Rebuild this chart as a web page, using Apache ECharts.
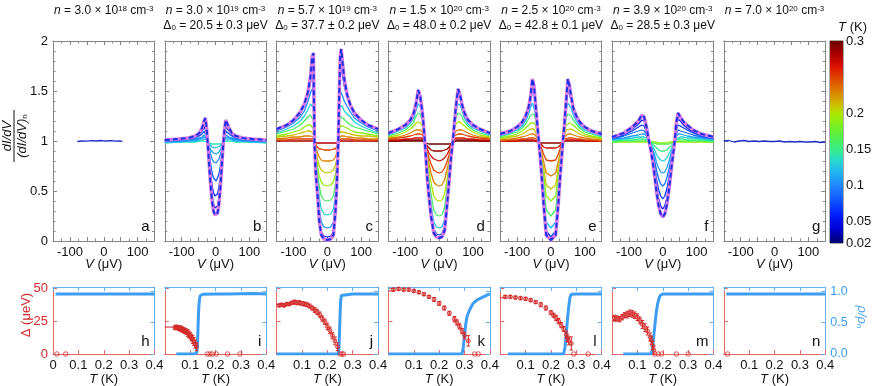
<!DOCTYPE html>
<html><head><meta charset="utf-8">
<script src="https://cdn.jsdelivr.net/npm/echarts@6/dist/echarts.min.js"></script>
<style>html,body{margin:0;padding:0;background:#fff}#c{width:872px;height:386px}</style>
</head><body><div id="c"></div>
<script>
// ---------------- DATA ----------------
// panel titles
const densMant = ['3.0','3.0','5.7','1.5','2.5','3.9','7.0'];
const densExp  = ['18','19','19','20','20','20','20'];
const gapText  = [null,'20.5 ± 0.3','37.7 ± 0.2','48.0 ± 0.2','42.8 ± 0.1','28.5 ± 0.3',null];
const topLetters = ['a','b','c','d','e','f','g'];
const botLetters = ['h','i','j','k','l','m','n'];
// tick labels
const vTickLabels = [-100,0,100];
const cbarLabels = [0.02,0.05,0.1,0.15,0.2,0.3];
const deltaLabels = [0,25,50];
const rhoLabels = [0,0.5,1];

// panel a
const Va = [-78,-65,-50,-35,-20,-10,0,10,20,35,45,55];
const a_low = [0.995,1.0,0.998,1.003,1.0,1.005,1.002,1.0,1.004,0.998,1.0,0.996];
// panel g
const Vg = [-150,-135,-120,-105,-90,-75,-60,-45,-30,-15,0,15,30,45,60,75,90,105,120,135,150];
const g_low = [1.0,1.005,0.99,1.0,1.005,0.995,1.0,0.995,1.0,0.995,0.995,1.0,0.99,0.995,0.99,0.995,0.99,0.99,0.995,0.985,0.99];

// panel b
const Vb = [-150,-110,-80,-60,-48,-40,-34,-30,-26,-22,-18,-14,-10,-6,-2,2,6,10,14,18,22,26,30,34,40,48,60,80,110,150];
const bT = [0.14,0.12,0.11,0.10,0.08,0.06,0.04,0.02];
const b014 = [0.98,0.99,0.99,0.99,1.00,1.00,1.00,1.00,0.99,0.98,0.98,0.97,0.97,0.97,0.97,0.97,0.97,0.97,0.97,0.98,0.98,0.99,1.00,1.00,1.00,1.00,0.99,0.99,0.99,0.98];
const b012 = [0.99,0.99,1.00,1.00,1.01,1.02,1.02,1.02,1.01,0.99,0.97,0.95,0.94,0.94,0.93,0.93,0.94,0.94,0.95,0.97,0.99,1.01,1.02,1.02,1.02,1.01,1.00,1.00,0.99,0.99];
const b011 = [0.99,1.00,1.00,1.01,1.02,1.03,1.04,1.04,1.02,0.98,0.94,0.91,0.89,0.88,0.87,0.87,0.88,0.89,0.91,0.94,0.98,1.02,1.04,1.04,1.03,1.02,1.01,1.00,1.00,0.99];
const b010 = [1.00,1.00,1.01,1.02,1.03,1.04,1.06,1.06,1.03,0.98,0.92,0.86,0.82,0.79,0.78,0.78,0.79,0.82,0.86,0.91,0.97,1.03,1.06,1.06,1.04,1.03,1.02,1.01,1.00,1.00];
const b008 = [1.00,1.01,1.02,1.03,1.05,1.07,1.10,1.10,1.05,0.96,0.86,0.76,0.68,0.63,0.61,0.60,0.62,0.67,0.75,0.85,0.96,1.05,1.10,1.10,1.07,1.05,1.03,1.02,1.01,1.00];
const b006 = [1.01,1.01,1.03,1.04,1.06,1.10,1.14,1.15,1.08,0.95,0.80,0.66,0.55,0.48,0.45,0.44,0.47,0.54,0.65,0.80,0.95,1.07,1.14,1.15,1.10,1.06,1.04,1.03,1.01,1.01];
const b004 = [1.01,1.02,1.03,1.05,1.07,1.12,1.17,1.19,1.10,0.93,0.75,0.58,0.45,0.37,0.33,0.32,0.35,0.43,0.57,0.75,0.93,1.08,1.18,1.19,1.12,1.07,1.05,1.03,1.02,1.01];
const b002 = [1.01,1.02,1.03,1.05,1.08,1.13,1.20,1.23,1.12,0.92,0.72,0.53,0.39,0.30,0.26,0.25,0.28,0.37,0.52,0.72,0.93,1.10,1.21,1.23,1.13,1.08,1.05,1.03,1.02,1.01];

// panel c
const Vc = [-150,-120,-100,-80,-68,-58,-50,-45,-41,-38,-35,-32,-28,-24,-18,-10,0,10,18,24,28,32,35,38,41,45,50,58,68,80,100,120,150];
const cT = [0.28,0.25,0.23,0.21,0.19,0.16,0.13,0.10,0.06,0.02];
const c028 = [1.00,1.00,1.00,1.00,1.00,1.00,1.00,1.00,1.00,0.99,0.98,0.98,0.98,0.98,0.98,0.98,0.98,0.98,0.98,0.98,0.98,0.98,0.99,1.00,1.00,1.00,1.00,1.00,1.00,1.00,1.00,1.00,1.00];
const c025 = [1.01,1.01,1.02,1.02,1.02,1.02,1.02,1.02,1.02,1.00,0.98,0.95,0.93,0.92,0.92,0.91,0.91,0.91,0.92,0.92,0.94,0.98,1.01,1.02,1.02,1.02,1.02,1.02,1.02,1.01,1.01,1.01,1.01];
const c023 = [1.02,1.03,1.04,1.04,1.05,1.05,1.05,1.05,1.04,1.01,0.97,0.92,0.87,0.84,0.81,0.80,0.80,0.80,0.81,0.84,0.88,0.97,1.03,1.05,1.05,1.05,1.05,1.04,1.04,1.03,1.03,1.02,1.02];
const c021 = [1.04,1.05,1.06,1.08,1.09,1.10,1.10,1.09,1.07,1.02,0.95,0.88,0.80,0.75,0.71,0.69,0.68,0.69,0.71,0.76,0.82,0.95,1.06,1.09,1.10,1.09,1.09,1.08,1.07,1.06,1.05,1.05,1.04];
const c019 = [1.05,1.07,1.09,1.11,1.14,1.16,1.16,1.15,1.12,1.03,0.93,0.83,0.73,0.65,0.59,0.56,0.55,0.56,0.59,0.67,0.77,0.95,1.10,1.15,1.16,1.15,1.14,1.13,1.11,1.09,1.08,1.07,1.05];
const c016 = [1.07,1.10,1.12,1.16,1.20,1.24,1.26,1.25,1.20,1.06,0.92,0.78,0.65,0.55,0.45,0.41,0.40,0.41,0.45,0.57,0.72,0.97,1.17,1.25,1.25,1.23,1.21,1.19,1.16,1.14,1.12,1.10,1.07];
const c013 = [1.08,1.12,1.15,1.20,1.25,1.31,1.37,1.38,1.33,1.08,0.88,0.72,0.58,0.44,0.32,0.27,0.26,0.27,0.32,0.48,0.67,0.98,1.25,1.36,1.37,1.34,1.30,1.27,1.24,1.19,1.15,1.12,1.08];
const c010 = [1.10,1.14,1.18,1.24,1.30,1.39,1.48,1.52,1.48,1.08,0.82,0.66,0.50,0.33,0.19,0.14,0.13,0.14,0.19,0.40,0.62,1.00,1.32,1.50,1.50,1.45,1.40,1.35,1.29,1.23,1.18,1.14,1.10];
const c006 = [1.11,1.15,1.20,1.27,1.35,1.45,1.58,1.72,1.70,1.05,0.76,0.60,0.44,0.24,0.09,0.05,0.04,0.05,0.09,0.33,0.57,0.98,1.40,1.70,1.73,1.65,1.55,1.44,1.34,1.26,1.20,1.15,1.11];
const c002 = [1.12,1.16,1.21,1.29,1.37,1.48,1.64,1.84,1.88,1.00,0.72,0.58,0.42,0.20,0.06,0.02,0.01,0.02,0.06,0.30,0.55,0.95,1.45,1.85,1.92,1.78,1.62,1.47,1.36,1.28,1.21,1.16,1.12];

// panel d
const Vd = [-150,-120,-100,-85,-75,-68,-62,-56,-50,-45,-40,-35,-30,-24,-16,-8,0,8,16,24,30,35,40,45,50,56,62,68,75,85,100,120,150];
const dT = [0.30,0.29,0.27,0.25,0.23,0.20,0.16,0.12,0.07,0.02];
const d030 = [1.00,1.00,1.00,1.00,1.00,1.00,1.00,1.00,1.00,0.99,0.98,0.97,0.97,0.97,0.97,0.97,0.97,0.97,0.97,0.97,0.97,0.97,0.98,0.99,1.00,1.00,1.00,1.00,1.00,1.00,1.00,1.00,1.00];
const d029 = [1.00,1.00,1.01,1.01,1.01,1.01,1.01,1.01,1.01,1.00,0.98,0.95,0.93,0.91,0.90,0.90,0.90,0.90,0.91,0.92,0.94,0.97,1.00,1.01,1.01,1.01,1.01,1.01,1.01,1.01,1.01,1.00,1.00];
const d027 = [1.01,1.01,1.02,1.02,1.03,1.03,1.03,1.03,1.03,1.01,0.97,0.92,0.88,0.85,0.82,0.81,0.80,0.81,0.83,0.87,0.91,0.95,1.00,1.02,1.03,1.03,1.03,1.03,1.03,1.02,1.02,1.01,1.01];
const d025 = [1.02,1.03,1.04,1.05,1.06,1.07,1.07,1.07,1.06,1.03,0.96,0.89,0.83,0.77,0.71,0.69,0.68,0.69,0.73,0.80,0.87,0.93,1.01,1.05,1.07,1.07,1.07,1.07,1.06,1.05,1.04,1.03,1.02];
const d023 = [1.03,1.04,1.06,1.08,1.10,1.11,1.11,1.11,1.09,1.04,0.95,0.86,0.77,0.68,0.59,0.56,0.55,0.56,0.61,0.72,0.82,0.92,1.01,1.07,1.10,1.11,1.11,1.11,1.10,1.08,1.06,1.04,1.03];
const d020 = [1.04,1.06,1.09,1.12,1.15,1.18,1.19,1.18,1.15,1.07,0.94,0.81,0.70,0.58,0.45,0.41,0.40,0.41,0.47,0.63,0.78,0.91,1.02,1.12,1.17,1.19,1.19,1.17,1.15,1.12,1.09,1.06,1.04];
const d016 = [1.05,1.08,1.11,1.15,1.19,1.25,1.28,1.27,1.21,1.10,0.93,0.76,0.62,0.47,0.31,0.26,0.25,0.26,0.33,0.55,0.74,0.89,1.02,1.15,1.24,1.28,1.27,1.24,1.19,1.15,1.11,1.08,1.05];
const d012 = [1.06,1.10,1.13,1.18,1.23,1.31,1.37,1.35,1.25,1.12,0.92,0.70,0.54,0.36,0.19,0.14,0.13,0.14,0.21,0.47,0.69,0.87,1.01,1.17,1.30,1.37,1.36,1.30,1.23,1.17,1.13,1.10,1.06];
const d007 = [1.07,1.11,1.15,1.20,1.26,1.35,1.46,1.42,1.28,1.12,0.90,0.66,0.48,0.29,0.12,0.07,0.06,0.07,0.14,0.42,0.65,0.85,1.00,1.18,1.34,1.46,1.43,1.34,1.26,1.20,1.15,1.11,1.07];
const d002 = [1.08,1.12,1.16,1.21,1.28,1.38,1.51,1.45,1.30,1.12,0.88,0.62,0.44,0.25,0.08,0.04,0.03,0.04,0.10,0.38,0.62,0.83,0.98,1.18,1.36,1.52,1.46,1.36,1.28,1.21,1.16,1.12,1.08];

// panel e
const Ve = [-150,-120,-100,-85,-75,-66,-60,-55,-50,-45,-40,-36,-32,-28,-22,-14,0,14,22,28,32,36,40,45,50,55,60,66,75,85,100,120,150];
const eT = [0.29,0.27,0.25,0.23,0.21,0.19,0.16,0.12,0.07,0.02];
const e029 = [1.00,1.00,1.00,1.00,1.00,1.00,1.00,1.00,1.00,1.00,0.99,0.99,0.98,0.98,0.98,0.98,0.98,0.98,0.98,0.98,0.98,0.99,0.99,1.00,1.00,1.00,1.00,1.00,1.00,1.00,1.00,1.00,1.00];
const e027 = [1.00,1.00,1.00,1.01,1.01,1.01,1.01,1.01,1.01,1.01,1.00,0.99,0.98,0.96,0.94,0.93,0.93,0.93,0.94,0.96,0.98,0.99,1.00,1.01,1.01,1.01,1.01,1.01,1.01,1.01,1.00,1.00,1.00];
const e025 = [1.00,1.01,1.01,1.02,1.02,1.03,1.03,1.03,1.03,1.03,1.01,0.99,0.96,0.93,0.87,0.81,0.80,0.81,0.87,0.93,0.96,0.99,1.02,1.03,1.03,1.03,1.03,1.03,1.02,1.02,1.01,1.01,1.00];
const e023 = [1.01,1.02,1.03,1.04,1.05,1.06,1.07,1.07,1.07,1.06,1.03,0.99,0.94,0.89,0.80,0.68,0.65,0.68,0.80,0.89,0.94,0.99,1.04,1.06,1.07,1.07,1.07,1.06,1.05,1.04,1.03,1.02,1.01];
const e021 = [1.02,1.04,1.05,1.07,1.09,1.11,1.12,1.12,1.12,1.10,1.05,1.00,0.93,0.86,0.74,0.56,0.52,0.56,0.74,0.86,0.93,1.00,1.06,1.11,1.12,1.12,1.12,1.11,1.09,1.07,1.05,1.04,1.02];
const e019 = [1.03,1.05,1.07,1.10,1.13,1.16,1.18,1.18,1.18,1.15,1.08,1.00,0.92,0.83,0.67,0.45,0.40,0.45,0.67,0.83,0.92,1.01,1.09,1.16,1.18,1.18,1.18,1.16,1.13,1.10,1.07,1.05,1.03];
const e016 = [1.04,1.07,1.09,1.13,1.17,1.22,1.26,1.27,1.27,1.21,1.11,1.01,0.90,0.79,0.58,0.31,0.25,0.31,0.58,0.79,0.90,1.02,1.12,1.23,1.27,1.27,1.25,1.21,1.17,1.13,1.09,1.07,1.04];
const e012 = [1.05,1.08,1.11,1.15,1.20,1.27,1.34,1.38,1.37,1.27,1.13,1.01,0.89,0.75,0.49,0.19,0.13,0.19,0.49,0.75,0.89,1.03,1.15,1.30,1.38,1.37,1.33,1.26,1.20,1.15,1.11,1.08,1.05];
const e007 = [1.06,1.09,1.13,1.17,1.23,1.31,1.40,1.50,1.47,1.32,1.15,1.01,0.87,0.71,0.42,0.10,0.04,0.10,0.42,0.71,0.87,1.03,1.17,1.36,1.50,1.47,1.39,1.30,1.23,1.17,1.13,1.09,1.06];
const e002 = [1.07,1.10,1.14,1.19,1.25,1.34,1.45,1.62,1.55,1.35,1.15,1.00,0.85,0.68,0.38,0.06,0.01,0.06,0.38,0.68,0.85,1.02,1.18,1.40,1.62,1.55,1.44,1.33,1.25,1.19,1.14,1.10,1.07];

// panel f
const Vf = [-150,-115,-90,-72,-62,-55,-48,-42,-36,-30,-24,-18,-12,-6,0,6,12,18,24,30,36,40,45,52,62,72,90,115,150];
const fT = [0.19,0.17,0.15,0.13,0.11,0.09,0.07,0.05,0.02];
const f019 = [0.99,0.99,0.99,0.99,0.99,0.99,0.99,0.99,0.99,0.99,0.99,0.99,0.98,0.98,0.98,0.98,0.98,0.99,0.99,0.99,0.99,0.99,0.99,0.99,0.99,0.99,0.99,0.99,0.99];
const f017 = [0.99,1.00,1.00,1.00,1.00,1.00,1.00,0.99,0.99,0.98,0.98,0.97,0.97,0.97,0.97,0.97,0.97,0.97,0.98,0.98,0.99,0.99,1.00,1.00,1.00,1.00,1.00,1.00,0.99];
const f015 = [1.00,1.01,1.01,1.02,1.02,1.02,1.01,1.00,0.99,0.97,0.95,0.93,0.91,0.90,0.90,0.90,0.91,0.93,0.95,0.97,0.99,1.01,1.02,1.02,1.02,1.01,1.01,1.01,1.00];
const f013 = [1.01,1.02,1.03,1.04,1.04,1.04,1.03,1.01,0.98,0.95,0.91,0.86,0.83,0.81,0.80,0.81,0.83,0.87,0.91,0.95,0.99,1.02,1.04,1.04,1.04,1.03,1.03,1.02,1.01];
const f011 = [1.02,1.03,1.05,1.06,1.07,1.07,1.05,1.01,0.96,0.92,0.86,0.78,0.73,0.69,0.68,0.69,0.73,0.79,0.87,0.93,0.99,1.04,1.07,1.07,1.06,1.05,1.04,1.03,1.02];
const f009 = [1.02,1.05,1.08,1.10,1.11,1.10,1.07,1.01,0.95,0.89,0.80,0.70,0.62,0.57,0.55,0.57,0.63,0.71,0.81,0.91,1.00,1.07,1.11,1.10,1.09,1.08,1.06,1.04,1.02];
const f007 = [1.03,1.06,1.10,1.14,1.16,1.15,1.09,1.01,0.94,0.86,0.74,0.61,0.51,0.45,0.42,0.45,0.52,0.63,0.76,0.89,1.01,1.11,1.16,1.15,1.13,1.11,1.08,1.05,1.03];
const f005 = [1.04,1.07,1.12,1.17,1.21,1.20,1.12,1.02,0.93,0.83,0.69,0.54,0.42,0.35,0.32,0.35,0.43,0.56,0.72,0.87,1.02,1.15,1.22,1.20,1.16,1.13,1.09,1.06,1.04];
const f002 = [1.04,1.08,1.14,1.20,1.26,1.24,1.14,1.02,0.92,0.80,0.65,0.48,0.35,0.27,0.24,0.27,0.36,0.50,0.68,0.85,1.02,1.18,1.28,1.24,1.19,1.16,1.11,1.07,1.04];

// bottom panels: rho/rho_n (blue), Delta (red) with errors, zero-gap points, low-T fit segment
const hRhoT=[0.01,0.1,0.2,0.3,0.4], hRho=[0.955,0.955,0.953,0.955,0.955], hZeroT=[0.015,0.05];
const iRhoT=[0.045,0.08,0.11,0.125,0.128,0.13,0.132,0.134,0.137,0.14,0.15,0.2,0.25,0.3,0.35,0.4];
const iRho =[0,0,0,0.01,0.1,0.3,0.55,0.75,0.88,0.93,0.95,0.955,0.955,0.958,0.96,0.955];
const iDT=[0.04,0.045,0.05,0.055,0.06,0.065,0.07,0.075,0.08,0.085,0.09,0.095,0.1,0.105,0.11,0.115,0.12,0.125];
const iD =[20,20.5,20,19.5,19.5,19,18.5,18,17.5,17,16,15,14,12.5,11,9.5,7.5,5.5];
const iDE=[1.5,1.5,1.5,1.5,2,2,2,2,2,2,2.5,2.5,2.5,2.5,3,3,3,3];
const iFitT=[0,0.04], iFitD=[20.5,20.5], iZeroT=[0.168,0.178,0.187,0.203,0.247,0.296];
const jRhoT=[0.0,0.1,0.2,0.243,0.246,0.248,0.25,0.252,0.255,0.26,0.3,0.35,0.4];
const jRho =[0,0,0,0,0.1,0.35,0.6,0.82,0.93,0.95,0.955,0.955,0.955];
const jDT=[0.01,0.02,0.03,0.04,0.05,0.06,0.07,0.08,0.09,0.1,0.11,0.12,0.13,0.14,0.15,0.16,0.17,0.18,0.19,0.2,0.21,0.22,0.23,0.24];
const jD =[37,37.5,37,38,38,39,39.5,39,39,38.5,38,37.5,36.5,35,33.5,32,30,27,24.5,21,18,14,10,5.5];
const jDE=[1,1,1,1,1,1,1.5,1.5,1.5,1.5,1.5,1.5,1.5,1.5,2,2,2,2,2,2.5,2.5,2.5,3,3];
const jFitT=[0,0.01], jFitD=[37.7,37.7], jZeroT=[0.252,0.258,0.264];
const kRhoT=[0.0,0.1,0.2,0.29,0.295,0.3,0.305,0.31,0.32,0.333,0.35,0.37,0.39,0.4];
const kRho =[0,0,0,0,0.1,0.3,0.48,0.6,0.7,0.8,0.86,0.9,0.94,0.955];
const kDT=[0.02,0.04,0.06,0.08,0.1,0.12,0.14,0.16,0.18,0.2,0.22,0.24,0.26,0.27,0.28,0.29,0.3,0.315];
const kD =[49,49.5,49,49,48,47,45.5,43.5,41.5,38.5,35,31,26.5,24,21,17.5,14,10];
const kDE=[1,1,1,1,1,1,1,1,1.5,1.5,1.5,1.5,2,2,2,2,2.5,4];
const kFitT=[0,0.02], kFitD=[48,48], kZeroT=[0.34,0.354];
const lRhoT=[0.03,0.1,0.2,0.25,0.255,0.26,0.265,0.27,0.275,0.28,0.3,0.35,0.4];
const lRho =[0,0,0,0,0.1,0.3,0.55,0.75,0.9,0.95,0.955,0.955,0.955];
const lDT=[0.02,0.04,0.06,0.08,0.1,0.12,0.14,0.16,0.18,0.2,0.21,0.22,0.23,0.24,0.25,0.26,0.265,0.27,0.28];
const lD =[43.5,43.5,43,42.5,42,41,39.5,37.5,35,31.5,29.5,27.5,25,22,19,15,12,10,8];
const lDE=[1,1,1,1,1,1,1,1.5,1.5,1.5,1.5,2,2,2,2,2.5,2.5,3,5];
const lFitT=[0,0.02], lFitD=[42.8,42.8], lZeroT=[0.29,0.347];
const mRhoT=[0.044,0.1,0.155,0.16,0.165,0.17,0.175,0.18,0.185,0.19,0.2,0.3,0.4];
const mRho =[0,0,0,0.1,0.3,0.5,0.68,0.8,0.88,0.93,0.955,0.955,0.955];
const mDT=[0.01,0.02,0.03,0.04,0.05,0.06,0.07,0.08,0.09,0.1,0.11,0.12,0.13,0.14,0.15,0.155,0.16,0.165];
const mD =[27.5,27,26.5,28,29.5,30,31,30.5,29.5,28,25.5,22.5,20,17.5,13,10.5,6.5,3];
const mDE=[2,2,2,2,2,2.5,2.5,2.5,2.5,2.5,2.5,3,3,3,3,3,3,3];
const mFitT=[0,0.01], mFitD=[28.5,28.5], mZeroT=[0.169,0.182,0.195,0.254,0.3];
const nRhoT=[0.01,0.1,0.2,0.3,0.4], nRho=[0.955,0.955,0.955,0.955,0.955], nZeroT=[0.015];

// ---------------- STYLE / LAYOUT ----------------
const FONT = '"Liberation Sans", Arial, Helvetica, sans-serif';
const RED='#d42a2a', REDAX='#e36868', BLUE='#3d9df3', BLUEAX='#66b0f5', GREYAX='#868686', TXT='#111';
const CMAP=[[0.02,'#00006e'],[0.04,'#0000d8'],[0.06,'#0020ff'],[0.08,'#1058ff'],[0.10,'#2088ff'],[0.12,'#20b8f0'],[0.135,'#28dcc8'],[0.15,'#38ee88'],[0.17,'#58f040'],[0.19,'#90ee10'],[0.20,'#b0e400'],[0.21,'#c8c400'],[0.22,'#d4a000'],[0.235,'#e07000'],[0.25,'#e04000'],[0.265,'#dc1000'],[0.28,'#b00000'],[0.30,'#6e0000']];
function hex2rgb(h){return [parseInt(h.slice(1,3),16),parseInt(h.slice(3,5),16),parseInt(h.slice(5,7),16)];}
function tColor(t){const s=CMAP; if(t<=s[0][0]) return s[0][1];
  for(let k=1;k<s.length;k++){ if(t<=s[k][0]+1e-9){ const f=(t-s[k-1][0])/(s[k][0]-s[k-1][0]); const a=hex2rgb(s[k-1][1]), b=hex2rgb(s[k][1]);
    return 'rgb('+a.map((v,j)=>Math.round(v+(b[j]-v)*f)).join(',')+')'; } }
  return s[s.length-1][1];}

const PL=53, PSTEP=111.8, PW=101.5, TT=41, TH=200, BT=287, BH=67;

const tops = [
  {V:Va, T:[0.035], Y:[a_low], fit:false},
  {V:Vb, T:bT, Y:[b014,b012,b011,b010,b008,b006,b004,b002], fit:true},
  {V:Vc, T:cT, Y:[c028,c025,c023,c021,c019,c016,c013,c010,c006,c002], fit:true},
  {V:Vd, T:dT, Y:[d030,d029,d027,d025,d023,d020,d016,d012,d007,d002], fit:true},
  {V:Ve, T:eT, Y:[e029,e027,e025,e023,e021,e019,e016,e012,e007,e002], fit:true},
  {V:Vf, T:fT, Y:[f019,f017,f015,f013,f011,f009,f007,f005,f002], fit:true},
  {V:Vg, T:[0.035], Y:[g_low], fit:false}
];
const bots = [
  {rT:hRhoT,r:hRho,dT:[],d:[],e:[],fT:[],fD:[],z:hZeroT},
  {rT:iRhoT,r:iRho,dT:iDT,d:iD,e:iDE,fT:iFitT,fD:iFitD,z:iZeroT},
  {rT:jRhoT,r:jRho,dT:jDT,d:jD,e:jDE,fT:jFitT,fD:jFitD,z:jZeroT},
  {rT:kRhoT,r:kRho,dT:kDT,d:kD,e:kDE,fT:kFitT,fD:kFitD,z:kZeroT},
  {rT:lRhoT,r:lRho,dT:lDT,d:lD,e:lDE,fT:lFitT,fD:lFitD,z:lZeroT},
  {rT:mRhoT,r:mRho,dT:mDT,d:mD,e:mDE,fT:mFitT,fD:mFitD,z:mZeroT},
  {rT:nRhoT,r:nRho,dT:[],d:[],e:[],fT:[],fD:[],z:nZeroT}
];

const grids=[], xAxes=[], yAxes=[], series=[], graphics=[];
function zip(a,b){return a.map((v,k)=>[v,b[k]]);}
function ax(color, extra){
  return Object.assign({
    axisLine:{show:true,onZero:false,lineStyle:{color:color,width:1}},
    axisTick:{show:true,inside:true,length:4,lineStyle:{color:color,width:1}},
    splitLine:{show:false}, axisLabel:{show:false}, silent:true
  }, extra);
}

for(let p=0;p<7;p++){
  const left = PL + p*PSTEP;
  // ---- top panel ----
  grids.push({left:left, top:TT, width:PW, height:TH, containLabel:false, outerBoundsMode:'none'});
  let g = grids.length-1;
  const xb = xAxes.length;
  xAxes.push(ax(GREYAX,{type:'value', gridIndex:g, position:'bottom', min:-150, max:150, interval:50,
    minorTick:{show:true, splitNumber:2, length:2.5, lineStyle:{color:GREYAX}},
    axisLabel:{show:true, color:TXT, fontSize:13, fontFamily:FONT, margin:5,
      formatter:v=>vTickLabels.indexOf(v)>=0?String(v):''},
    name:'{i|V} (μV)', nameLocation:'middle', nameGap:17, nameMoveOverlap:false,
    nameTextStyle:{color:TXT, fontSize:13, fontFamily:FONT, verticalAlign:'top', rich:{i:{fontStyle:'italic', fontSize:13, fontFamily:FONT, color:TXT}}}}));
  xAxes.push(ax(GREYAX,{type:'value', gridIndex:g, position:'top', min:-150, max:150, interval:50,
    minorTick:{show:true, splitNumber:2, length:2.5, lineStyle:{color:GREYAX}}}));
  const yl = yAxes.length;
  yAxes.push(ax(GREYAX,{type:'value', gridIndex:g, position:'left', min:0, max:2, interval:0.5,
    minorTick:{show:true, splitNumber:5, length:2.5, lineStyle:{color:GREYAX}},
    axisLabel:{show:p===0, color:TXT, fontSize:13, fontFamily:FONT, margin:5}}));
  yAxes.push(ax(GREYAX,{type:'value', gridIndex:g, position:'right', min:0, max:2, interval:0.5,
    minorTick:{show:true, splitNumber:5, length:2.5, lineStyle:{color:GREYAX}}}));
  const P = tops[p];
  const n = P.Y.length;
  for(let k=0;k<n;k++){
    const data = zip(P.V, P.Y[k]);
    if(k===n-1 && P.fit){
      series.push({type:'line', xAxisIndex:xb, yAxisIndex:yl, data:data, showSymbol:false, silent:true, z:3,
        lineStyle:{color:'#d67ce6', width:3.4}, emphasis:{disabled:true}});
      series.push({type:'line', xAxisIndex:xb, yAxisIndex:yl, data:data, showSymbol:false, silent:true, z:4,
        lineStyle:{color:'#1a2ee6', width:2, type:[5,3]}, emphasis:{disabled:true}});
    } else {
      series.push({type:'line', xAxisIndex:xb, yAxisIndex:yl, data:data, showSymbol:false, silent:true, z:2,
        lineStyle:{color: p===0||p===6 ? '#1c2cc8' : tColor(P.T[k]), width:1.3}, emphasis:{disabled:true}});
    }
  }
  // titles
  graphics.push({type:'text', x:left+PW/2, y:11, silent:true, style:{
    text:'{i|n} = '+densMant[p]+' × 10{s|'+densExp[p]+'} cm{s|-3}', align:'center', verticalAlign:'middle',
    fontSize:12, fontFamily:FONT, fill:TXT,
    rich:{i:{fontStyle:'italic',fontSize:12,fontFamily:FONT,fill:TXT}, s:{fontSize:8,fontFamily:FONT,fill:TXT,verticalAlign:'top'}}}});
  if(gapText[p]){
    graphics.push({type:'text', x:left+PW/2, y:26, silent:true, style:{
      text:'Δ{b|0} = '+gapText[p]+' μeV', align:'center', verticalAlign:'middle',
      fontSize:12, fontFamily:FONT, fill:TXT,
      rich:{b:{fontSize:8,fontFamily:FONT,fill:TXT,verticalAlign:'bottom'}}}});
  }
  graphics.push({type:'text', x:left+PW-5, y:227, silent:true, style:{text:topLetters[p], align:'right', verticalAlign:'middle', fontSize:15, fontFamily:FONT, fill:TXT}});

  // ---- bottom panel ----
  grids.push({left:left, top:BT, width:PW, height:BH, containLabel:false, outerBoundsMode:'none'});
  g = grids.length-1;
  const bxb = xAxes.length;
  xAxes.push(ax(REDAX,{type:'value', gridIndex:g, position:'bottom', min:0, max:0.4, interval:0.1,
    axisLabel:{show:true, color:TXT, fontSize:13, fontFamily:FONT, margin:5,
      formatter:v=>(p>0 && Math.abs(v)<1e-9)?'':String(Math.round(v*10)/10)},
    name:'{i|T} (K)', nameLocation:'middle', nameGap:19, nameMoveOverlap:false,
    nameTextStyle:{color:TXT, fontSize:13, fontFamily:FONT, verticalAlign:'top', rich:{i:{fontStyle:'italic', fontSize:13, fontFamily:FONT, color:TXT}}}}));
  const bxt = xAxes.length;
  xAxes.push(ax(BLUEAX,{type:'value', gridIndex:g, position:'top', min:0, max:0.4, interval:0.1}));
  const byl = yAxes.length;
  yAxes.push(ax(REDAX,{type:'value', gridIndex:g, position:'left', min:0, max:51,
    axisTick:{show:true, inside:true, length:4, customValues:deltaLabels, lineStyle:{color:REDAX}},
    axisLabel:{show:p===0, customValues:deltaLabels, color:RED, fontSize:13, fontFamily:FONT, margin:5}}));
  const byr = yAxes.length;
  yAxes.push(ax(BLUEAX,{type:'value', gridIndex:g, position:'right', min:0, max:1.065,
    axisTick:{show:true, inside:true, length:4, customValues:rhoLabels, lineStyle:{color:BLUEAX}},
    axisLabel:{show:p===6, customValues:rhoLabels, color:BLUE, fontSize:12.5, fontFamily:FONT, margin:5, formatter:v=>v.toFixed(1)}}));
  const B = bots[p];
  series.push({type:'line', xAxisIndex:bxt, yAxisIndex:byr, data:zip(B.rT,B.r), showSymbol:false, silent:true, z:2,
    lineStyle:{color:BLUE, width:3}, emphasis:{disabled:true}});
  if(B.fT.length) series.push({type:'line', xAxisIndex:bxb, yAxisIndex:byl, data:zip(B.fT,B.fD), showSymbol:false, silent:true, z:3,
    lineStyle:{color:RED, width:1}, emphasis:{disabled:true}});
  if(B.dT.length){
    series.push({type:'custom', xAxisIndex:bxb, yAxisIndex:byl, silent:true, z:3,
      data:B.dT.map((t,k)=>[t,B.d[k],B.e[k]]), encode:{x:0,y:1},
      renderItem:function(params, api){
        const x=api.value(0), y=api.value(1), e=api.value(2);
        const p1=api.coord([x,y-e]), p2=api.coord([x,y+e]);
        const st={stroke:RED, lineWidth:1};
        return {type:'group', children:[
          {type:'line', shape:{x1:p1[0],y1:p1[1],x2:p2[0],y2:p2[1]}, style:st},
          {type:'line', shape:{x1:p1[0]-1.8,y1:p1[1],x2:p1[0]+1.8,y2:p1[1]}, style:st},
          {type:'line', shape:{x1:p2[0]-1.8,y1:p2[1],x2:p2[0]+1.8,y2:p2[1]}, style:st}]};
      }});
    series.push({type:'scatter', xAxisIndex:bxb, yAxisIndex:byl, data:zip(B.dT,B.d), silent:true, z:4,
      symbol:'circle', symbolSize:4, itemStyle:{color:'rgba(212,42,42,0.45)', borderColor:RED, borderWidth:1}, emphasis:{disabled:true}});
  }
  series.push({type:'scatter', xAxisIndex:bxb, yAxisIndex:byl, data:B.z.map(t=>[t,0]), silent:true, z:4, clip:false,
    symbol:'circle', symbolSize:4.5, itemStyle:{color:'rgba(255,255,255,0)', borderColor:RED, borderWidth:1}, emphasis:{disabled:true}});
  graphics.push({type:'text', x:left+PW-5, y:342, silent:true, style:{text:botLetters[p], align:'right', verticalAlign:'middle', fontSize:15, fontFamily:FONT, fill:TXT}});
}

// ---- colorbar ----
grids.push({left:830, top:41, width:13, height:202, show:true, borderColor:'#555', borderWidth:1, backgroundColor:'transparent', containLabel:false, outerBoundsMode:'none'});
const cg = grids.length-1;
const cbx = xAxes.length;
xAxes.push({type:'category', gridIndex:cg, data:['T'], show:false});
const cby = yAxes.length;
yAxes.push({type:'value', gridIndex:cg, position:'right', min:0.02, max:0.3,
  axisLine:{show:false}, splitLine:{show:false},
  axisTick:{show:true, inside:true, length:3, customValues:[0.05,0.1,0.15,0.2], lineStyle:{color:'#333'}},
  axisLabel:{show:true, customValues:cbarLabels, color:TXT, fontSize:13, fontFamily:FONT, margin:3}});
const stops=[];
for(let k=0;k<=56;k++){ const t=0.3-k*(0.28/56); stops.push({offset:k/56, color:tColor(t)}); }
series.push({type:'bar', xAxisIndex:cbx, yAxisIndex:cby, data:[0.3], barWidth:'100%', silent:true,
  itemStyle:{color:new echarts.graphic.LinearGradient(0,0,0,1,stops)}, emphasis:{disabled:true}});
graphics.push({type:'text', x:867, y:27, silent:true, style:{text:'{i|T} (K)', align:'right', verticalAlign:'middle',
  fontSize:13, fontFamily:FONT, fill:TXT, rich:{i:{fontStyle:'italic',fontSize:13,fontFamily:FONT,fill:TXT}}}});

// ---- axis titles ----
graphics.push({type:'group', x:14, y:136, rotation:Math.PI/2, silent:true, children:[
  {type:'text', x:0, y:-7, style:{text:'dI/dV', align:'center', verticalAlign:'middle', fontSize:13, fontStyle:'italic', fontFamily:FONT, fill:TXT}},
  {type:'line', shape:{x1:-26,y1:0,x2:26,y2:0}, style:{stroke:TXT, lineWidth:1}},
  {type:'text', x:0, y:8, style:{text:'(dI/dV){s|n}', align:'center', verticalAlign:'middle', fontSize:13, fontStyle:'italic', fontFamily:FONT, fill:TXT,
     rich:{s:{fontSize:8, fontFamily:FONT, fill:TXT, verticalAlign:'bottom'}}}}
]});
graphics.push({type:'text', x:26, y:315, rotation:Math.PI/2, silent:true, style:{text:'Δ (μeV)', align:'center', verticalAlign:'middle', fontSize:13, fontFamily:FONT, fill:RED}});
graphics.push({type:'text', x:862, y:317, rotation:-Math.PI/2, silent:true, style:{text:'ρ/ρ{s|n}', align:'center', verticalAlign:'middle', fontSize:13, fontStyle:'italic', fontFamily:FONT, fill:BLUE,
  rich:{s:{fontSize:8, fontFamily:FONT, fill:BLUE, verticalAlign:'bottom'}}}});

const chart = echarts.init(document.getElementById('c'), null, {renderer:'canvas'});
chart.setOption({animation:false, backgroundColor:'#fff', grid:grids, xAxis:xAxes, yAxis:yAxes, series:series, graphic:graphics, tooltip:{show:false}, legend:{show:false}});
</script>
</body></html>
